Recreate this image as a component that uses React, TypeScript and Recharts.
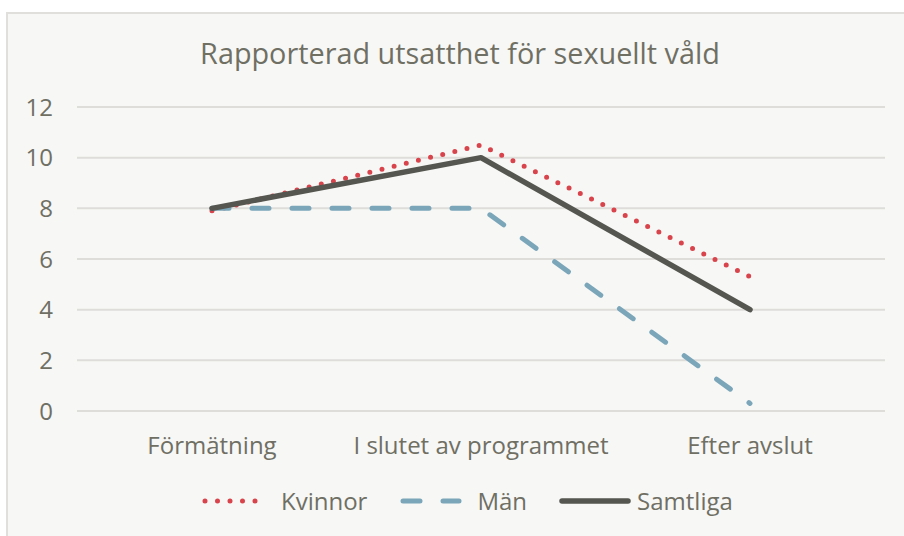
import React from 'react';
import { LineChart, Line, XAxis, YAxis, CartesianGrid } from 'recharts';

const TITLE = 'Rapporterad utsatthet för sexuellt våld';
const CATEGORIES = ['Förmätning', 'I slutet av programmet', 'Efter avslut'];
const KVINNOR = [7.9, 10.5, 5.3];
const MAN = [8, 8, 0.3];
const SAMTLIGA = [8, 10, 4];
const Y_TICKS = [0, 2, 4, 6, 8, 10, 12];

const TEXT = '#6f6f64';
const FONT = '"Open Sans", sans-serif';

const SERIES = [
  { key: 'kvinnor', name: 'Kvinnor', values: KVINNOR, color: '#d9434b', width: 5, dash: '0 12.5', icon: 66, gap: 13, after: 33 },
  { key: 'man', name: 'Män', values: MAN, color: '#7ba6ba', width: 5, dash: '17 23', icon: 62, gap: 15, after: 32 },
  { key: 'samtliga', name: 'Samtliga', values: SAMTLIGA, color: '#55564f', width: 5.5, dash: undefined, icon: 72, gap: 6, after: 0 },
];

const data = CATEGORIES.map((c, i) => {
  const row: any = { name: c };
  SERIES.forEach((s) => (row[s.key] = s.values[i]));
  return row;
});

function LegendRow() {
  return (
    <div
      style={{
        position: 'absolute',
        top: 484,
        left: 202,
        display: 'flex',
        fontFamily: FONT,
        fontSize: 24,
        color: TEXT,
        whiteSpace: 'nowrap',
      }}
    >
      {SERIES.map((s) => (
        <div key={s.key} style={{ display: 'flex', alignItems: 'center', marginRight: s.after }}>
          <svg width={s.icon} height={20} style={{ marginRight: s.gap }}>
            <line
              x1={3}
              y1={10}
              x2={s.icon - 3}
              y2={10}
              stroke={s.color}
              strokeWidth={s.width}
              strokeDasharray={s.dash}
              strokeLinecap="round"
            />
          </svg>
          <span>{s.name}</span>
        </div>
      ))}
    </div>
  );
}

export default function App() {
  return (
    <div style={{ position: 'fixed', left: 0, top: 0, width: 904, height: 536, overflow: 'hidden', background: '#fff' }}>
      <div
        style={{
          position: 'absolute',
          left: 6,
          top: 12,
          width: 920,
          height: 540,
          background: '#f7f7f5',
          border: '2px solid #e0dfdb',
        }}
      />
      <svg style={{ position: 'absolute', left: 0, top: 0 }} width={904} height={100}>
        <text x={460} y={64} textAnchor="middle" fontFamily={FONT} fontSize={28.8} fill={TEXT}>
          {TITLE}
        </text>
      </svg>
      <div style={{ position: 'absolute', left: 0, top: 0 }}>
        <LineChart width={904} height={536} data={data} margin={{ top: 107, right: 19, bottom: 65, left: 0 }}>
          <CartesianGrid vertical={false} stroke="#dedddA" strokeWidth={2} />
          <XAxis
            dataKey="name"
            axisLine={false}
            tickLine={false}
            tickSize={0}
            tickMargin={26}
            height={60}
            padding={{ left: 135, right: 135 }}
            tick={{ fill: TEXT, fontSize: 24, fontFamily: FONT }}
            interval={0}
          />
          <YAxis
            domain={[0, 12]}
            ticks={Y_TICKS}
            axisLine={false}
            tickLine={false}
            tickSize={0}
            tickMargin={24}
            width={77}
            tick={{ fill: TEXT, fontSize: 24, fontFamily: FONT }}
          />
          {SERIES.map((s) => (
            <Line
              key={s.key}
              dataKey={s.key}
              name={s.name}
              stroke={s.color}
              strokeWidth={s.width}
              strokeDasharray={s.dash}
              strokeLinecap="round"
              strokeLinejoin="round"
              dot={false}
              activeDot={false}
              isAnimationActive={false}
              type="linear"
            />
          ))}
        </LineChart>
      </div>
      <LegendRow />
    </div>
  );
}
